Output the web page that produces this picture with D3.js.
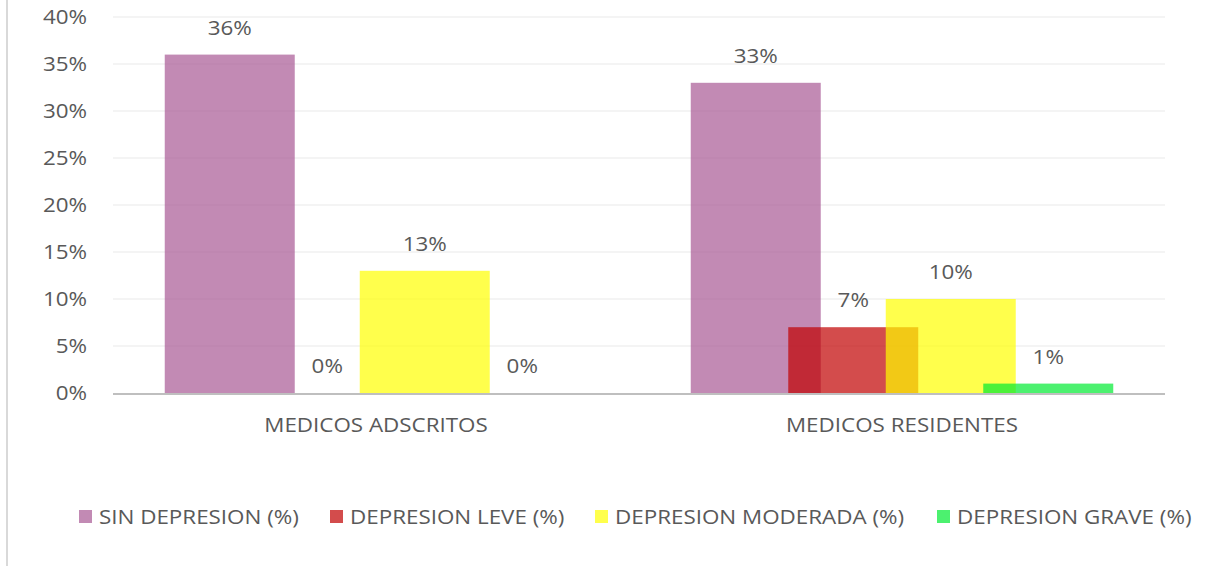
<!DOCTYPE html>
<html><head><meta charset="utf-8">
<script src="https://cdn.jsdelivr.net/npm/d3@7"></script>
<style>html,body{margin:0;padding:0;background:#fff;overflow:hidden}</style>
</head><body>
<svg id="chart" width="1223" height="571"></svg>
<script>
const categories = ["MEDICOS ADSCRITOS", "MEDICOS RESIDENTES"];
const seriesNames = ["SIN DEPRESION (%)", "DEPRESION LEVE (%)", "DEPRESION MODERADA (%)", "DEPRESION GRAVE (%)"];
const sinDepresion = [36, 33];
const depresionLeve = [0, 7];
const depresionModerada = [13, 10];
const depresionGrave = [0, 1];
const yTicks = [0, 5, 10, 15, 20, 25, 30, 35, 40];

(function () {
const seriesValues = [sinDepresion, depresionLeve, depresionModerada, depresionGrave];
const colors = ["rgb(168,88,148)", "rgb(192,0,0)", "rgb(255,255,0)", "rgb(0,235,50)"];
const font = "'Open Sans', 'Noto Sans', sans-serif";
const textColor = "#595959";
const fs = 20, sx = 1.12;

const svg = d3.select("#chart");
const pLeft = 113, pRight = 1165, pTop = 17, pBottom = 393;

function label(g, x, yy, txt, anchor) {
  return g.append("text")
    .attr("transform", `translate(${x},${yy}) scale(${sx},1)`)
    .attr("dy", "0.36em")
    .attr("text-anchor", anchor).attr("font-family", font).attr("font-size", fs)
    .attr("fill", textColor).text(txt);
}

svg.append("line").attr("x1", 7).attr("x2", 7).attr("y1", 0).attr("y2", 566)
  .attr("stroke", "#d9d9d9").attr("stroke-width", 2);

const y = d3.scaleLinear().domain([0, 40]).range([pBottom, pTop]);
const x0 = d3.scaleBand().domain(categories).range([pLeft, pRight]);
const barW = 130, step = barW * 0.75;
const clusterW = step * (seriesNames.length - 1) + barW;
const x1 = d3.scaleLinear().domain([0, seriesNames.length - 1])
  .range([0, step * (seriesNames.length - 1)]);
const barX = (c, si) => x0(c) + x0.bandwidth() / 2 - clusterW / 2 + x1(si);

svg.append("g").selectAll("line").data(yTicks.filter(t => t > 0)).join("line")
  .attr("x1", pLeft).attr("x2", pRight)
  .attr("y1", d => y(d)).attr("y2", d => y(d))
  .attr("stroke", "#f0f0f0").attr("stroke-width", 1.5);

const yl = svg.append("g");
yTicks.forEach(t => label(yl, 87, y(t), t + "%", "end"));

seriesNames.forEach((s, si) => {
  svg.append("g").selectAll("rect").data(categories).join("rect")
    .attr("x", c => barX(c, si))
    .attr("width", barW)
    .attr("y", (c, i) => y(seriesValues[si][i]))
    .attr("height", (c, i) => pBottom - y(seriesValues[si][i]))
    .attr("fill", colors[si]).attr("fill-opacity", 0.7);
});

svg.append("line").attr("x1", pLeft).attr("x2", pRight).attr("y1", pBottom + 1).attr("y2", pBottom + 1)
  .attr("stroke", "#bfbfbf").attr("stroke-width", 2);

const dl = svg.append("g");
seriesNames.forEach((s, si) => {
  categories.forEach((c, i) => {
    label(dl, barX(c, si) + barW / 2, y(seriesValues[si][i]) - 27, seriesValues[si][i] + "%", "middle");
  });
});

const cl = svg.append("g");
categories.forEach(c => label(cl, x0(c) + x0.bandwidth() / 2, 425, c, "middle"));

const legendX = [79, 330, 595, 937];
const lg = svg.append("g");
seriesNames.forEach((s, si) => {
  lg.append("rect").attr("x", legendX[si]).attr("y", 510).attr("width", 13).attr("height", 13)
    .attr("fill", colors[si]).attr("fill-opacity", 0.7);
  label(lg, legendX[si] + 20, 516.5, s, "start");
});
})();
</script>
</body></html>
